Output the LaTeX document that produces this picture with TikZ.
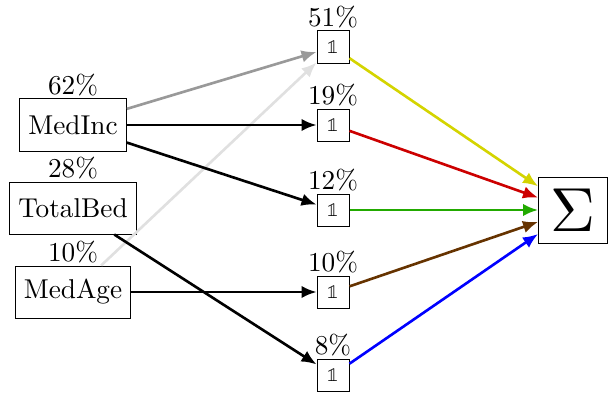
\documentclass[tikz,border=0pt]{standalone}
\usepackage{unicode-math}
\usetikzlibrary{arrows.meta}
\definecolor{cgray}{HTML}{999999}
\definecolor{clight}{HTML}{E0E0E0}
\definecolor{cyel}{HTML}{D4D400}
\definecolor{cred}{HTML}{CC0000}
\definecolor{cgreen}{HTML}{22AA00}
\definecolor{cbrown}{HTML}{663300}
\definecolor{cblue}{HTML}{0000FF}
\begin{document}
\begin{tikzpicture}[x=0.4pt,y=-0.4pt,
  every node/.append style={font=\fontsize{10.9}{13}\selectfont},
  feat/.style={draw, minimum height=20.8pt, inner xsep=3.5pt},
  unit/.style={draw, minimum width=12.8pt, minimum height=12.8pt, inner sep=0pt, font=\footnotesize},
  sumbox/.style={draw, minimum width=27.6pt, minimum height=26.4pt, inner sep=1pt, font=\Huge},
  pct/.style={label distance=-2.7pt},
  conn/.style={line width=1.05pt, -{Latex[length=6pt,width=5pt]}}]
\useasboundingbox (0,0) rectangle (608,393);
\node[feat, label={[pct]above:62\%}] (inc) at (73,125) {MedInc};
\node[feat, label={[pct]above:28\%}] (bed) at (73,208) {TotalBed};
\node[feat, label={[pct]above:10\%}] (age) at (73,292) {MedAge};
\node[unit, label={[pct]above:51\%}] (u1) at (333,47) {$\mathbb{1}$};
\node[unit, label={[pct]above:19\%}] (u2) at (333,125) {$\mathbb{1}$};
\node[unit, label={[pct]above:12\%}] (u3) at (333,210) {$\mathbb{1}$};
\node[unit, label={[pct]above:10\%}] (u4) at (333,292) {$\mathbb{1}$};
\node[unit, label={[pct]above:8\%}] (u5) at (333,375) {$\mathbb{1}$};
\node[sumbox] (sum) at (573,210) {$\Sigma$};
\draw[conn, clight] (age) -- (u1);
\draw[conn, cgray] (inc) -- (u1);
\draw[conn] (inc) -- (u2);
\draw[conn] (inc) -- (u3);
\draw[conn] (age) -- (u4);
\draw[conn] (bed) -- (u5);
\draw[conn, cyel] (u1) -- (sum);
\draw[conn, cred] (u2) -- (sum);
\draw[conn, cgreen] (u3) -- (sum);
\draw[conn, cbrown] (u4) -- (sum);
\draw[conn, cblue] (u5) -- (sum);
\end{tikzpicture}
\end{document}
